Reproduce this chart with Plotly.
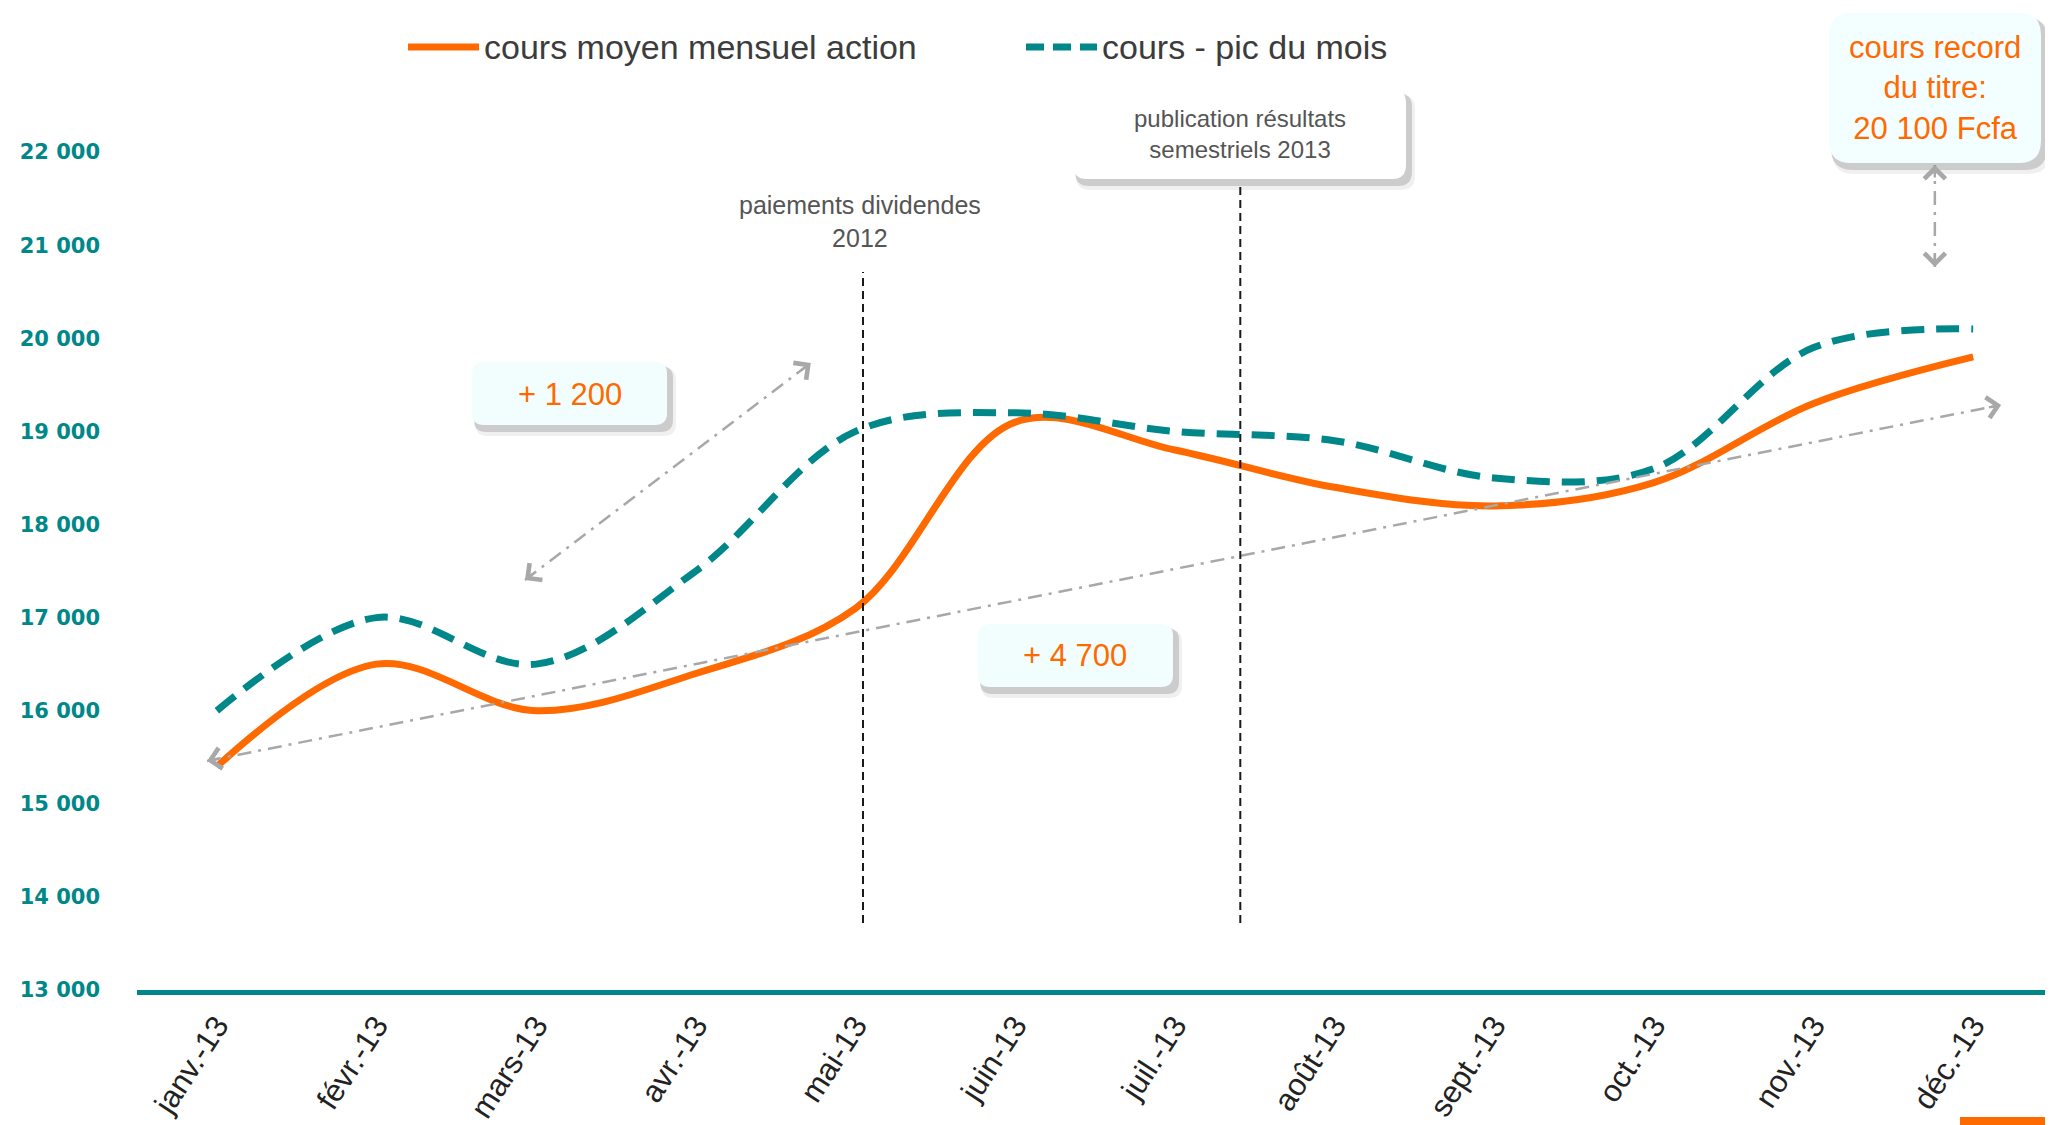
import math
import plotly.graph_objects as go

# ---------------- data ----------------
months = ["janv.-13", "févr.-13", "mars-13", "avr.-13", "mai-13", "juin-13",
          "juil.-13", "août-13", "sept.-13", "oct.-13", "nov.-13", "déc.-13"]
cours_moyen = [15400, 16500, 16000, 16400, 17100, 19100,
               18800, 18400, 18200, 18450, 19300, 19800]
cours_pic = [16000, 17000, 16500, 17500, 19000, 19200,
             19000, 18900, 18500, 18600, 19900, 20100]
y_tickvals = [13000, 14000, 15000, 16000, 17000, 18000, 19000, 20000, 21000, 22000]
y_ticktext = ["13 000", "14 000", "15 000", "16 000", "17 000",
              "18 000", "19 000", "20 000", "21 000", "22 000"]
series_names = ["cours moyen mensuel action", "cours - pic du mois"]

# ---------------- style ----------------
W, H = 2053, 1125          # target page size
OFF = 8                    # page body margin
ML, MR, MT, MB = 137, 0, 59, 135   # plot area in page pixels
ORANGE = "#FF6A00"
TEAL = "#00878A"
GREY = "#A8A8A8"
FONT = "Liberation Sans, Arial, Helvetica, sans-serif"

PW = W - ML - MR
PH = H - MT - MB
SX = PW / 12.0             # px per category
SY = PH / 10000.0          # px per value unit


def px_x(px):
    return (px - ML) / PW


def px_y(py):
    return (H - MB - py) / PH


def rounded_rect(x0, y0, x1, y1, r):
    X = px_x
    Y = px_y
    return (f"M {X(x0 + r)},{Y(y0)} L {X(x1 - r)},{Y(y0)} "
            f"Q {X(x1)},{Y(y0)} {X(x1)},{Y(y0 + r)} "
            f"L {X(x1)},{Y(y1 - r)} Q {X(x1)},{Y(y1)} {X(x1 - r)},{Y(y1)} "
            f"L {X(x0 + r)},{Y(y1)} Q {X(x0)},{Y(y1)} {X(x0)},{Y(y1 - r)} "
            f"L {X(x0)},{Y(y0 + r)} Q {X(x0)},{Y(y0)} {X(x0 + r)},{Y(y0)} Z")


fig = go.Figure()
fig.add_trace(go.Scatter(
    x=months, y=cours_moyen, mode="lines", name=series_names[0],
    line=dict(color=ORANGE, width=7, shape="spline", smoothing=1.0),
    showlegend=False, hoverinfo="x+y"))
fig.add_trace(go.Scatter(
    x=months, y=cours_pic, mode="lines", name=series_names[1],
    line=dict(color=TEAL, width=7, shape="spline", smoothing=1.0, dash="23px,12px"),
    showlegend=False, hoverinfo="x+y"))

shapes = []
annotations = []


def dashdot_arrow(xa, ya, xb, yb):
    shapes.append(dict(type="line", xref="x", yref="y", x0=xa, y0=ya, x1=xb, y1=yb,
                       line=dict(color=GREY, width=2.5, dash="14px,7px,3px,7px"),
                       layer="above"))
    for (hx, hy, tx, ty) in [(xa, ya, xb, yb), (xb, yb, xa, ya)]:
        dxp = (tx - hx) * SX
        dyp = -(ty - hy) * SY
        n = math.hypot(dxp, dyp)
        L = 14.0
        annotations.append(dict(x=hx, y=hy, xref="x", yref="y",
                                ax=dxp / n * L, ay=dyp / n * L,
                                text="", showarrow=True,
                                arrowhead=4, arrowsize=1.7, arrowwidth=2.4,
                                arrowcolor=GREY, standoff=0))


dashdot_arrow(-0.061, 15460, 11.175, 19284)
dashdot_arrow(1.93, 17404, 3.72, 19735)
dashdot_arrow(10.76, 20766, 10.76, 21861)

# vertical event lines
for xv, ytop in [(4.047, 20712), (6.41, 21679)]:
    shapes.append(dict(type="line", xref="x", yref="y", x0=xv, x1=xv, y0=13720, y1=ytop,
                       line=dict(color="#1a1a1a", width=2, dash="8px,5px"), layer="above"))

# boxes (shadow + rounded rect), page pixel coordinates
boxes = [
    (472, 362, 667, 425, 12, "#F2FEFE"),
    (978, 624, 1173, 687, 12, "#F2FEFE"),
    (1073, 89, 1406, 179, 14, "#FFFFFF"),
    (1829, 13, 2041, 163, 22, "#F2FEFF"),
]
for (x0, y0, x1, y1, r, fill) in boxes:
    shapes.append(dict(type="path", xref="paper", yref="paper",
                       path=rounded_rect(x0 + 3, y0 + 6, x1 + 9, y1 + 11, r),
                       fillcolor="rgba(0,0,0,0.06)", line=dict(width=0), layer="above"))
    shapes.append(dict(type="path", xref="paper", yref="paper",
                       path=rounded_rect(x0 + 2, y0 + 4, x1 + 6, y1 + 7, r),
                       fillcolor="rgba(0,0,0,0.15)", line=dict(width=0), layer="above"))
    shapes.append(dict(type="path", xref="paper", yref="paper",
                       path=rounded_rect(x0, y0, x1, y1, r),
                       fillcolor=fill, line=dict(width=0), layer="above"))

# decorative orange bar bottom-right
shapes.append(dict(type="rect", xref="paper", yref="paper",
                   x0=px_x(1960), x1=px_x(2060), y0=px_y(1130), y1=px_y(1117),
                   fillcolor=ORANGE, line=dict(width=0), layer="above"))

# manual legend
shapes.append(dict(type="line", xref="paper", yref="paper",
                   x0=px_x(408), x1=px_x(479), y0=px_y(47), y1=px_y(47),
                   line=dict(color=ORANGE, width=7)))
shapes.append(dict(type="line", xref="paper", yref="paper",
                   x0=px_x(1026), x1=px_x(1097), y0=px_y(47), y1=px_y(47),
                   line=dict(color=TEAL, width=7, dash="18px,9px")))
annotations.append(dict(x=px_x(482), y=px_y(47), xref="paper", yref="paper",
                        text=series_names[0], showarrow=False, xanchor="left", yanchor="middle",
                        font=dict(family=FONT, size=34, color="#3c3c3c")))
annotations.append(dict(x=px_x(1100), y=px_y(47), xref="paper", yref="paper",
                        text=series_names[1], showarrow=False, xanchor="left", yanchor="middle",
                        font=dict(family=FONT, size=34, color="#3c3c3c")))

box_texts = [
    dict(x=px_x(570), y=px_y(394), text="+ 1 200",
         font=dict(family=FONT, size=31, color=ORANGE)),
    dict(x=px_x(1075), y=px_y(655), text="+ 4 700",
         font=dict(family=FONT, size=31, color=ORANGE)),
    dict(x=px_x(1240), y=px_y(134), text="publication résultats<br>semestriels 2013",
         font=dict(family=FONT, size=24, color="#555555")),
    dict(x=px_x(1935), y=px_y(88), text="cours record<br>du titre:<br>20 100 Fcfa",
         font=dict(family=FONT, size=31, color=ORANGE)),
    dict(x=px_x(860), y=px_y(222), text="paiements dividendes<br>2012",
         font=dict(family=FONT, size=25, color="#555555")),
]
for a in box_texts:
    a.update(xref="paper", yref="paper", showarrow=False,
             xanchor="center", yanchor="middle")
annotations += box_texts

fig.update_layout(
    width=W - OFF, height=H - OFF,
    margin=dict(l=ML - OFF, r=MR, t=MT - OFF, b=MB, pad=0),
    paper_bgcolor="white", plot_bgcolor="white",
    showlegend=False,
    shapes=shapes, annotations=annotations,
    xaxis=dict(type="category", range=[-0.5, 11.5], showgrid=False, zeroline=False,
               showline=True, linecolor=TEAL, linewidth=5,
               tickangle=-57, ticks="", tickfont=dict(family=FONT, size=31, color="#222222")),
    yaxis=dict(range=[13000, 23000], showgrid=False, zeroline=False, showline=False,
               tickvals=y_tickvals, ticktext=y_ticktext, ticks="",
               ticklabelstandoff=36,
               tickfont=dict(family="DejaVu Sans, sans-serif", size=21, color=TEAL,
                             weight="bold")),
)

fig.write_html("out.html")
